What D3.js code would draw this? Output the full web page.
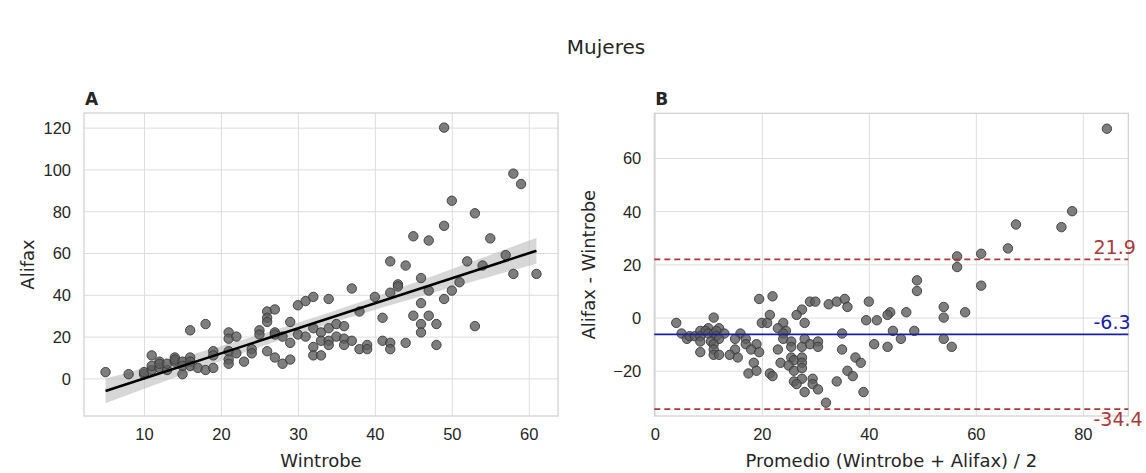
<!DOCTYPE html>
<html lang="es">
<head>
<meta charset="UTF-8">
<title>Mujeres</title>
<style>
  body { margin: 0; background: #fff; }
  svg { font-family: "DejaVu Sans", sans-serif; }
  .tick text { fill: #262626; font-size: 16.5px; }
  .grid line { stroke: #dedede; stroke-width: 1; }
  .grid .domain { display: none; }
  .axis .domain { display: none; }
  .axlabel { fill: #262626; font-size: 18px; }
</style>
<script src="https://d3js.org/d3.v7.min.js"></script>
</head>
<body>
<svg width="1146" height="473"></svg>
<script>
// Wintrobe vs Alifax, VSG en mujeres (mm/h)
const wintrobe = [5,8,10,10,11,11,11,12,12,12,13,13,14,14,14,15,15,15,16,16,16,16,17,18,18,19,19,19,
  21,21,21,21,21,22,22,23,24,24,25,25,26,26,26,26,27,27,27,27,28,28,29,29,29,30,30,31,31,
  32,32,32,32,33,33,33,34,34,34,34,35,35,36,36,36,37,37,38,38,39,39,40,41,41,42,42,42,42,
  43,43,44,44,45,45,46,46,46,46,47,47,47,48,48,49,49,49,50,50,51,52,53,53,54,55,57,58,58,59,61];
const alifax = [3,2,2,3,11,4,6,8,5,7,4,7,10,8,9,2,8,6,23,10,8,6,5,26,4,13,5,11,
  22,19,13,9,7,20,12,8,14,12,23,21,32,29,27,13,33,22,10,21,20,7,27,17,9,35,21,37,20,
  39,24,15,11,22,18,11,38,24,18,16,26,20,25,19,16,43,18,32,14,16,14,39,29,18,56,41,17,14,
  45,44,54,17,68,30,48,36,26,22,66,42,30,26,16,120,73,38,85,42,46,56,79,25,54,67,59,98,50,93,50];

// límites de Bland-Altman
const meanDiff = -6.3;
const upperLoA = 21.9;
const lowerLoA = -34.4;

const ticksA_x = [10, 20, 30, 40, 50, 60];
const ticksA_y = [0, 20, 40, 60, 80, 100, 120];
const ticksB_x = [0, 20, 40, 60, 80];
const ticksB_y = [-20, 0, 20, 40, 60];

const pts = d3.zip(wintrobe, alifax).map(([w, a]) => ({ w, a, m: (w + a) / 2, d: a - w }));

const svg = d3.select('svg');

svg.append('text')
  .attr('x', 606).attr('y', 54)
  .attr('text-anchor', 'middle')
  .style('font-size', '20px').style('fill', '#262626')
  .text('Mujeres');

function panel(box, xDomain, yDomain, xt, yt, letter, xLabel, yLabel, yLabelX) {
  const x = d3.scaleLinear().domain(xDomain).range([box.left, box.right]);
  const y = d3.scaleLinear().domain(yDomain).range([box.bottom, box.top]);
  const h = box.bottom - box.top, w = box.right - box.left;

  svg.append('g').attr('class', 'grid')
    .attr('transform', `translate(0,${box.bottom})`)
    .call(d3.axisBottom(x).tickValues(xt).tickSize(-h).tickFormat(''));
  svg.append('g').attr('class', 'grid')
    .attr('transform', `translate(${box.left},0)`)
    .call(d3.axisLeft(y).tickValues(yt).tickSize(-w).tickFormat(''));

  svg.append('rect')
    .attr('x', box.left).attr('y', box.top)
    .attr('width', w).attr('height', h)
    .attr('fill', 'none').attr('stroke', '#cfcfcf').attr('stroke-width', 1.2);

  svg.append('g').attr('class', 'axis')
    .attr('transform', `translate(0,${box.bottom})`)
    .call(d3.axisBottom(x).tickValues(xt).tickSize(0).tickPadding(12));
  svg.append('g').attr('class', 'axis')
    .attr('transform', `translate(${box.left},0)`)
    .call(d3.axisLeft(y).tickValues(yt).tickSize(0).tickPadding(13))
    .selectAll('.tick text').attr('dy', '0.36em');

  svg.append('text')
    .attr('x', box.left + 1).attr('y', 105)
    .style('font-size', '17px').style('font-weight', 'bold').style('fill', '#262626')
    .text(letter);

  svg.append('text').attr('class', 'axlabel')
    .attr('x', (box.left + box.right) / 2).attr('y', 467)
    .attr('text-anchor', 'middle')
    .text(xLabel);
  svg.append('text').attr('class', 'axlabel')
    .attr('transform', `translate(${yLabelX},${(box.top + box.bottom) / 2}) rotate(-90)`)
    .attr('text-anchor', 'middle')
    .text(yLabel);

  return { x, y };
}

function dots(sc, xv, yv) {
  svg.append('g').selectAll('circle').data(pts)
    .enter().append('circle')
      .attr('cx', d => sc.x(xv(d)))
      .attr('cy', d => sc.y(yv(d)))
      .attr('r', 4.7)
      .attr('fill', '#5e5e5e')
      .attr('fill-opacity', 0.8)
      .attr('stroke', '#3a3a3a')
      .attr('stroke-width', 0.9);
}

// ---- A: dispersión con regresión ----
const A = panel({ left: 84, right: 558, top: 113, bottom: 416 },
  [2.2, 63.8], [-18, 127], ticksA_x, ticksA_y, 'A', 'Wintrobe', 'Alifax', 34);

const n = pts.length;
const mx = d3.mean(pts, d => d.w), my = d3.mean(pts, d => d.a);
const sxx = d3.sum(pts, d => (d.w - mx) ** 2);
const slope = d3.sum(pts, d => (d.w - mx) * (d.a - my)) / sxx;
const icpt = my - slope * mx;
const se = Math.sqrt(d3.sum(pts, d => (d.a - (icpt + slope * d.w)) ** 2) / (n - 2));
const [wMin, wMax] = d3.extent(wintrobe);
const grid = d3.range(0, 101).map(i => wMin + (wMax - wMin) * i / 100);
const band = grid.map(v => {
  const half = 1.98 * se * Math.sqrt(1 / n + (v - mx) ** 2 / sxx);
  const fit = icpt + slope * v;
  return { v, lo: fit - half, hi: fit + half };
});

svg.append('path').datum(band)
  .attr('d', d3.area().x(d => A.x(d.v)).y0(d => A.y(d.lo)).y1(d => A.y(d.hi)))
  .attr('fill', '#bdbdbd').attr('fill-opacity', 0.6);

dots(A, d => d.w, d => d.a);

svg.append('line')
  .attr('x1', A.x(wMin)).attr('y1', A.y(icpt + slope * wMin))
  .attr('x2', A.x(wMax)).attr('y2', A.y(icpt + slope * wMax))
  .attr('stroke', '#000').attr('stroke-width', 2.6);

// ---- B: Bland-Altman ----
const B = panel({ left: 654.3, right: 1128.3, top: 113.3, bottom: 416 },
  [-0.1, 88.5], [-37, 76.8], ticksB_x, ticksB_y, 'B',
  'Promedio (Wintrobe + Alifax) / 2', 'Alifax - Wintrobe', 595);

dots(B, d => d.m, d => d.d);

const refLines = [
  { v: upperLoA, color: '#a83a3a', dash: '6,4', txt: upperLoA.toFixed(1), dy: -5 },
  { v: meanDiff, color: '#1c1ca8', dash: null, txt: meanDiff.toFixed(1), dy: -5 },
  { v: lowerLoA, color: '#a83a3a', dash: '6,4', txt: lowerLoA.toFixed(1), dy: 16.5 }
];
const labelAt = 82;
refLines.forEach(r => {
  svg.append('line')
    .attr('x1', B.x.range()[0]).attr('x2', B.x.range()[1])
    .attr('y1', B.y(r.v)).attr('y2', B.y(r.v))
    .attr('stroke', r.color).attr('stroke-width', r.dash ? 1.6 : 1.8)
    .attr('stroke-dasharray', r.dash);
  svg.append('text')
    .attr('x', B.x(labelAt)).attr('y', B.y(r.v) + r.dy)
    .style('font-size', '19px').style('fill', r.color)
    .text(r.txt);
});
</script>
</body>
</html>
